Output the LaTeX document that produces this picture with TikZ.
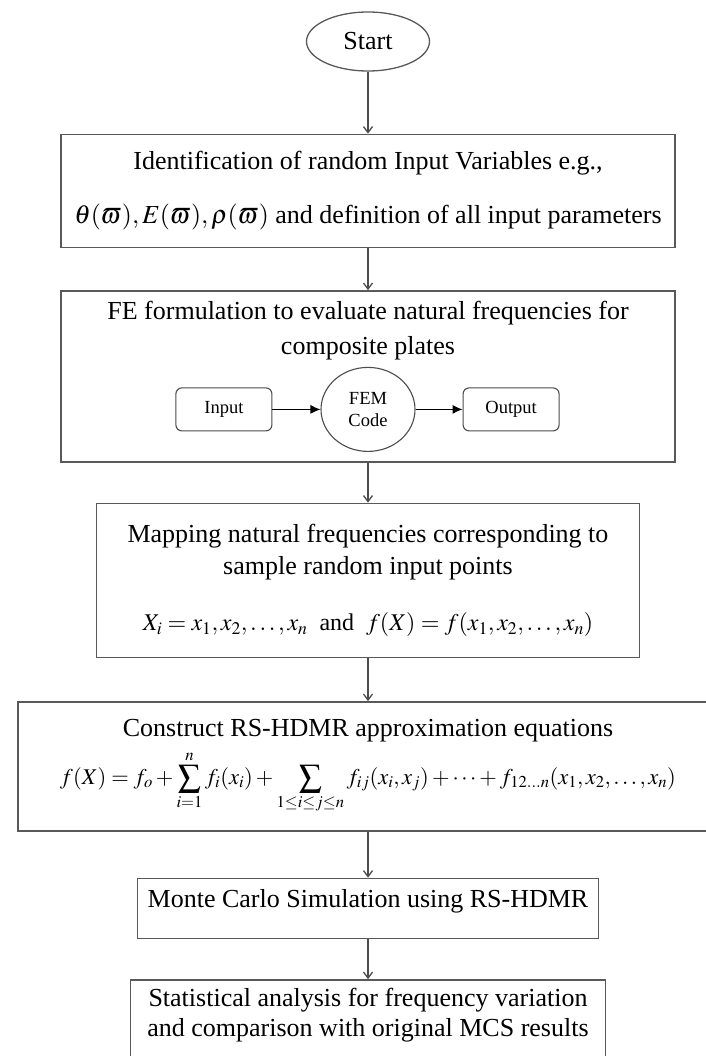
\documentclass[tikz,border=0pt]{standalone}
\usepackage{amsmath}
\usepackage{amssymb}
\usepackage{mathptmx}
\usepackage{fontspec}
\setmainfont{Liberation Serif}
\usetikzlibrary{shapes, arrows.meta, positioning}

\begin{document}
\begin{tikzpicture}[
        x=1pt, y=1pt,
        node distance=40pt,
        font=\fontsize{26}{30}\selectfont,
        block/.style={rectangle, draw=black!65, line width=1.5pt, fill=white, align=center, inner sep=0pt},
        startnode/.style={ellipse, draw=black!65, line width=1.3pt, minimum width=123pt, minimum height=59pt, inner sep=0pt},
        subbox/.style={rectangle, draw=black!70, line width=1.1pt, rounded corners=6pt, minimum width=96pt, minimum height=43pt, font=\fontsize{18.5}{20}\selectfont},
        codecircle/.style={ellipse, draw=black!70, line width=1.1pt, minimum width=94pt, minimum height=84pt, inner sep=0pt, align=center, font=\fontsize{18.5}{22}\selectfont},
        arrow/.style={line width=1.3pt, draw=black!70, -{Straight Barb[length=6pt,width=9pt]}},
        subarrow/.style={line width=1.1pt, -{Latex[length=10pt,width=9pt]}}
    ]

    \useasboundingbox (0,0) rectangle (705,-1056);

    % Start
    \node [startnode] (start) at (368,-41.5) {Start};

    % Input variables
    \node [block, minimum width=614pt, minimum height=113pt, below=62pt of start] (ident) {Identification of random Input Variables e.g.,\\[24pt] $\theta(\varpi), E(\varpi), \rho(\varpi)$ and definition of all input parameters};

    % FE formulation with FEM code
    \node [block, minimum width=614pt, minimum height=171pt, below=42pt of ident] (fe) {};
    \node [align=center, inner sep=0pt, below=11pt of fe.north] (fetitle) {FE formulation to evaluate natural frequencies for\\[5pt] composite plates};
    \node [codecircle] (fem) at ([yshift=-33pt]fe.center) {FEM\\ Code};
    \node [subbox, left=48pt of fem] (input) {Input};
    \node [subbox, right=47pt of fem] (output) {Output};
    \draw [subarrow] (input) -- (fem);
    \draw [subarrow] (fem) -- (output);

    % Mapping
    \node [block, minimum width=543pt, minimum height=154pt, below=40pt of fe] (mapping) {Mapping natural frequencies corresponding to\\[2pt] sample random input points\\[26pt] \fontsize{24}{28}\selectfont $X_i = x_1, x_2, \dots, x_n$\ \ and\ \ $f(X) = f(x_1, x_2, \dots, x_n)$};

    % RS-HDMR
    \node [block, minimum width=700pt, minimum height=129pt, below=43pt of mapping] (hdmr) {Construct RS-HDMR approximation equations\\[8pt] \fontsize{22.5}{26}\selectfont $\displaystyle f(X) = f_o + \sum_{i=1}^{n} f_i(x_i) + \sum_{1\le i\le j\le n} f_{ij}(x_i,x_j) + \dots + f_{12\dots n}(x_1,x_2,\dots,x_n)$};

    % MCS and statistics
    \node [block, minimum width=461pt, minimum height=60pt, text depth=20pt, below=46pt of hdmr] (mcs) {Monte Carlo Simulation using RS-HDMR};
    \node [block, minimum width=475pt, minimum height=110pt, text depth=46pt, below=40pt of mcs] (stats) {Statistical analysis for frequency variation\\ and comparison with original MCS results};

    % Connecting Lines
    \draw [arrow] (start) -- (ident);
    \draw [arrow] (ident) -- (fe);
    \draw [arrow] (fe) -- (mapping);
    \draw [arrow] (mapping) -- (hdmr);
    \draw [arrow] (hdmr) -- (mcs);
    \draw [arrow] (mcs) -- (stats);

\end{tikzpicture}
\end{document}
